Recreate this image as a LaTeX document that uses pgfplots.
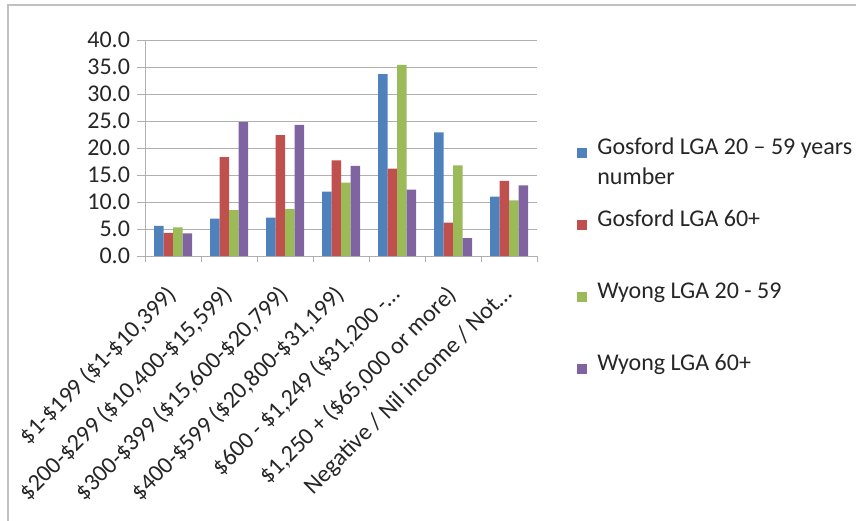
\documentclass[border=0pt]{standalone}
\usepackage{fontspec}
\setmainfont{Carlito}
\usepackage{pgfplots}
\pgfplotsset{compat=1.18}
\definecolor{sblue}{HTML}{4F81BD}
\definecolor{sred}{HTML}{C0504D}
\definecolor{sgreen}{HTML}{9BBB59}
\definecolor{spurple}{HTML}{8064A2}
\definecolor{gridc}{HTML}{B0B0B0}
\begin{document}
\begin{tikzpicture}
\useasboundingbox (0,0) rectangle (428pt,260pt);
\draw[gridc!80, line width=0.8pt] (4pt,-1pt) -- (4pt,257.5pt) -- (429pt,257.5pt);
\begin{axis}[
  at={(72.5pt,132pt)}, anchor=south west,
  scale only axis, width=196pt, height=108pt,
  ymin=0, ymax=40, ytick={0,5,...,40},
  xmin=0.5, xmax=7.5,
  xtick={1,...,7},
  xticklabels={{\$1-\$199 (\$1-\$10,399)},{\$200-\$299 (\$10,400-\$15,599)},{\$300-\$399 (\$15,600-\$20,799)},{\$400-\$599 (\$20,800-\$31,199)},{\$600 - \$1,249 (\$31,200 -…},{\$1,250 + (\$65,000 or more)},{Negative / Nil income / Not…}},
  x tick label style={rotate=45, anchor=north east, inner sep=0.5pt, xshift=-9pt, yshift=-3.5pt},
  minor xtick={0.5,1.5,...,7.5},
  major x tick style={draw=none},
  minor x tick style={gridc},
  minor tick length=3pt,
  tick align=outside,
  major tick length=4pt,
  ytick style={gridc},
  ymajorgrids, grid style={gridc, line width=0.5pt},
  axis x line*=bottom, axis y line*=left,
  axis line style={gridc},
  every axis plot/.append style={draw=none},
  ybar=0pt, bar width=4.75pt,
  yticklabel style={/pgf/number format/.cd, fixed, fixed zerofill, precision=1, assume math mode=true},
  tick label style={font=\fontsize{12}{12}\selectfont, text=black!85},
  legend style={draw=none, fill=none, at={(1.102,0.556)}, anchor=north west,
    font=\fontsize{12}{12}\selectfont, row sep=8pt, column sep=5pt, inner sep=0pt,
    nodes={inner sep=0pt, text=black!85, text height=9pt, text depth=19pt}},
  legend cell align=left,
  legend image code/.code={\fill[#1] (0pt,3pt) rectangle (5pt,8pt);},
]
\addplot[fill=sblue] coordinates {(1,5.6) (2,6.9) (3,7.1) (4,11.9) (5,33.7) (6,22.9) (7,11.0)};
\addlegendentry{\begin{tabular}[t]{@{}l@{}}Gosford LGA 20 – 59 years\\[3pt]number\end{tabular}}
\addplot[fill=sred] coordinates {(1,4.3) (2,18.3) (3,22.4) (4,17.7) (5,16.2) (6,6.2) (7,13.9)};
\addlegendentry{Gosford LGA 60+}
\addplot[fill=sgreen] coordinates {(1,5.3) (2,8.5) (3,8.7) (4,13.6) (5,35.4) (6,16.8) (7,10.3)};
\addlegendentry{Wyong LGA 20 - 59}
\addplot[fill=spurple] coordinates {(1,4.2) (2,24.8) (3,24.3) (4,16.7) (5,12.3) (6,3.3) (7,13.1)};
\addlegendentry{Wyong LGA 60+}
\end{axis}
\end{tikzpicture}
\end{document}
